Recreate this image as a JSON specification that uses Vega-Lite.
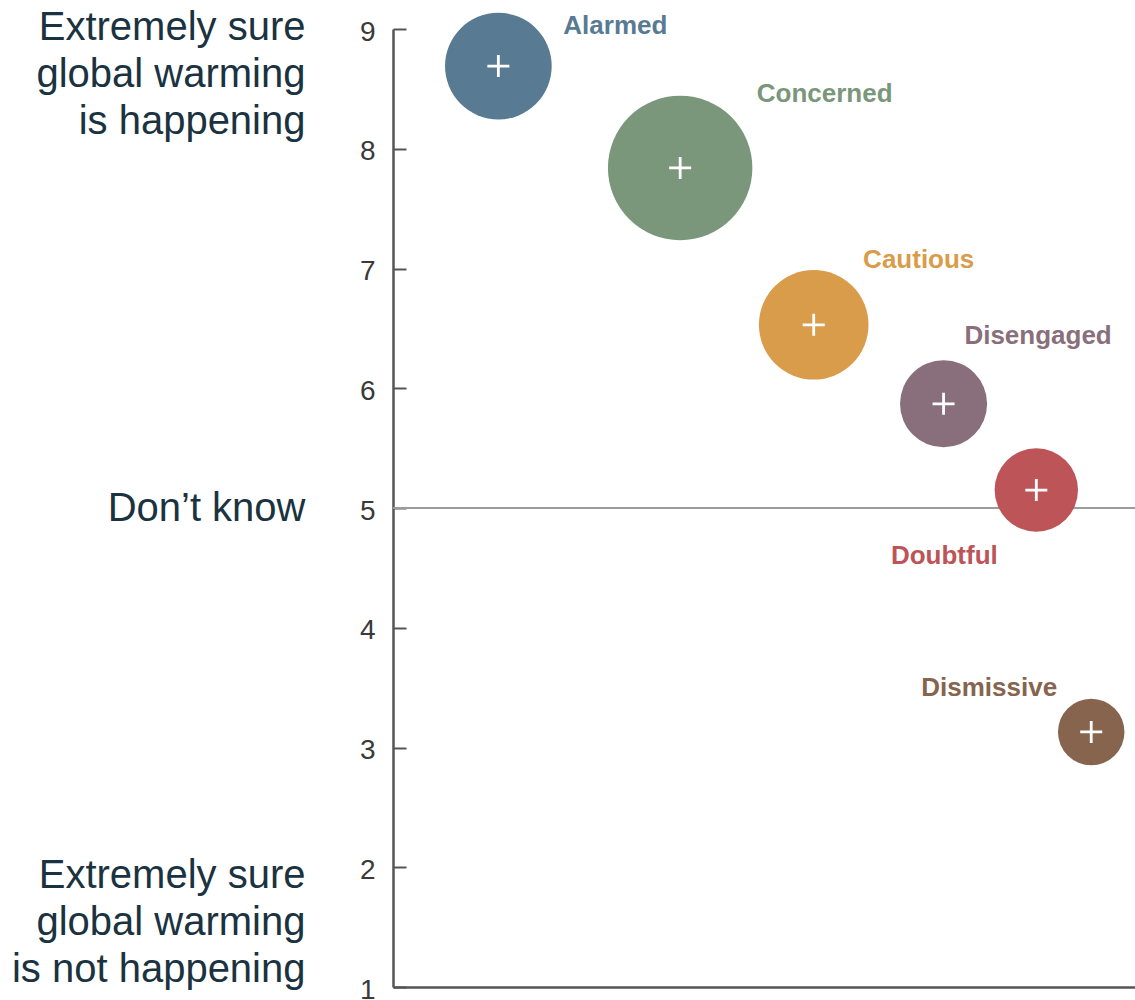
{
  "$schema": "https://vega.github.io/schema/vega-lite/v6.json",
  "width": 742,
  "height": 958,
  "autosize": {"type": "none"},
  "padding": {"left": 393, "top": 29, "right": 0, "bottom": 13},
  "config": {"view": {"stroke": null}, "font": "Liberation Sans"},
  "data": {
    "values": [
      {"segment": "Alarmed", "position": 14.2, "certainty": 8.69, "share": 18},
      {"segment": "Concerned", "position": 38.7, "certainty": 7.84, "share": 33},
      {"segment": "Cautious", "position": 56.7, "certainty": 6.53, "share": 19},
      {"segment": "Disengaged", "position": 74.2, "certainty": 5.87, "share": 12},
      {"segment": "Doubtful", "position": 86.7, "certainty": 5.15, "share": 11},
      {"segment": "Dismissive", "position": 94.1, "certainty": 3.13, "share": 7}
    ]
  },
  "layer": [
    {
      "mark": {"type": "rule", "color": "#9c9c9c", "strokeWidth": 2},
      "encoding": {
        "y": {
          "datum": 5,
          "type": "quantitative",
          "scale": {"domain": [1, 9], "nice": false},
          "axis": {
            "orient": "left",
            "values": [1, 5, 9],
            "title": null,
            "domain": false,
            "ticks": false,
            "grid": false,
            "labelPadding": 88,
            "labelFont": "Liberation Sans",
            "labelFontSize": 40,
            "labelColor": "#1b3340",
            "labelLineHeight": 47,
            "labelLimit": 0,
            "labelOverlap": false,
            "labelBound": false,
            "labelAlign": "right",
            "labelExpr": "datum.value == 9 ? ['Extremely sure', 'global warming', 'is happening'] : datum.value == 5 ? 'Don’t know' : datum.value == 1 ? ['Extremely sure', 'global warming', 'is not happening'] : ''",
            "labelBaseline": {"condition": {"test": "datum.value == 5", "value": "middle"}, "value": "alphabetic"},
            "labelOffset": {"condition": [{"test": "datum.value == 9", "value": 10}, {"test": "datum.value == 1", "value": -100}], "value": 0}
          }
        }
      }
    },
    {
      "mark": {"type": "circle", "opacity": 1},
      "encoding": {
        "x": {"field": "position", "type": "quantitative", "scale": {"domain": [0, 100], "nice": false}, "axis": {"title": null, "labels": false, "ticks": false, "grid": false, "domainColor": "#555555", "domainWidth": 2.5}},
        "y": {
          "field": "certainty",
          "type": "quantitative",
          "axis": {
            "orient": "left",
            "values": [1, 2, 3, 4, 5, 6, 7, 8, 9],
            "title": null,
            "grid": false,
            "domainColor": "#555555",
            "domainWidth": 2.5,
            "tickColor": "#555555",
            "tickWidth": 2,
            "tickSize": -13,
            "labelPadding": 31,
            "labelOffset": 3,
            "labelFont": "Liberation Sans",
            "labelFontSize": 28,
            "labelColor": "#3a3a3a",
            "labelOverlap": false,
            "labelBound": false
          }
        },
        "size": {"field": "share", "type": "quantitative", "scale": {"domain": [0, 33], "range": [0, 20867]}, "legend": null},
        "color": {
          "field": "segment",
          "type": "nominal",
          "scale": {
            "domain": ["Alarmed", "Concerned", "Cautious", "Disengaged", "Doubtful", "Dismissive"],
            "range": ["#587b93", "#7b977b", "#d99c4a", "#886f7b", "#bd5458", "#86644e"]
          },
          "legend": null
        }
      }
    },
    {
      "mark": {"type": "point", "shape": "M-1,0H1M0,-1V1", "filled": false, "stroke": "white", "strokeWidth": 2.8, "size": 484, "opacity": 1},
      "encoding": {
        "x": {"field": "position", "type": "quantitative", "axis": {"title": null, "labels": false, "ticks": false, "grid": false, "domainColor": "#555555", "domainWidth": 2.5}},
        "y": {"field": "certainty", "type": "quantitative", "axis": null}
      }
    },
    {
      "transform": [{"filter": "datum.segment == 'Alarmed'"}],
      "mark": {"type": "text", "fontSize": 26, "fontWeight": "bold", "align": "center", "baseline": "middle", "dx": 117, "dy": -40.5},
      "encoding": {
        "x": {"field": "position", "type": "quantitative", "axis": {"title": null, "labels": false, "ticks": false, "grid": false, "domainColor": "#555555", "domainWidth": 2.5}},
        "y": {"field": "certainty", "type": "quantitative", "axis": null},
        "text": {"field": "segment"},
        "color": {"field": "segment", "type": "nominal", "legend": null}
      }
    },
    {
      "transform": [{"filter": "datum.segment == 'Concerned'"}],
      "mark": {"type": "text", "fontSize": 26, "fontWeight": "bold", "align": "center", "baseline": "middle", "dx": 144.5, "dy": -73.5},
      "encoding": {
        "x": {"field": "position", "type": "quantitative", "axis": {"title": null, "labels": false, "ticks": false, "grid": false, "domainColor": "#555555", "domainWidth": 2.5}},
        "y": {"field": "certainty", "type": "quantitative", "axis": null},
        "text": {"field": "segment"},
        "color": {"field": "segment", "type": "nominal", "legend": null}
      }
    },
    {
      "transform": [{"filter": "datum.segment == 'Cautious'"}],
      "mark": {"type": "text", "fontSize": 26, "fontWeight": "bold", "align": "center", "baseline": "middle", "dx": 105, "dy": -64.5},
      "encoding": {
        "x": {"field": "position", "type": "quantitative", "axis": {"title": null, "labels": false, "ticks": false, "grid": false, "domainColor": "#555555", "domainWidth": 2.5}},
        "y": {"field": "certainty", "type": "quantitative", "axis": null},
        "text": {"field": "segment"},
        "color": {"field": "segment", "type": "nominal", "legend": null}
      }
    },
    {
      "transform": [{"filter": "datum.segment == 'Disengaged'"}],
      "mark": {"type": "text", "fontSize": 26, "fontWeight": "bold", "align": "center", "baseline": "middle", "dx": 94.5, "dy": -67.5},
      "encoding": {
        "x": {"field": "position", "type": "quantitative", "axis": {"title": null, "labels": false, "ticks": false, "grid": false, "domainColor": "#555555", "domainWidth": 2.5}},
        "y": {"field": "certainty", "type": "quantitative", "axis": null},
        "text": {"field": "segment"},
        "color": {"field": "segment", "type": "nominal", "legend": null}
      }
    },
    {
      "transform": [{"filter": "datum.segment == 'Doubtful'"}],
      "mark": {"type": "text", "fontSize": 26, "fontWeight": "bold", "align": "center", "baseline": "middle", "dx": -92, "dy": 65.5},
      "encoding": {
        "x": {"field": "position", "type": "quantitative", "axis": {"title": null, "labels": false, "ticks": false, "grid": false, "domainColor": "#555555", "domainWidth": 2.5}},
        "y": {"field": "certainty", "type": "quantitative", "axis": null},
        "text": {"field": "segment"},
        "color": {"field": "segment", "type": "nominal", "legend": null}
      }
    },
    {
      "transform": [{"filter": "datum.segment == 'Dismissive'"}],
      "mark": {"type": "text", "fontSize": 26, "fontWeight": "bold", "align": "center", "baseline": "middle", "dx": -102, "dy": -44},
      "encoding": {
        "x": {"field": "position", "type": "quantitative", "axis": {"title": null, "labels": false, "ticks": false, "grid": false, "domainColor": "#555555", "domainWidth": 2.5}},
        "y": {"field": "certainty", "type": "quantitative", "axis": null},
        "text": {"field": "segment"},
        "color": {"field": "segment", "type": "nominal", "legend": null}
      }
    }
  ],
  "resolve": {"axis": {"y": "independent"}}
}
